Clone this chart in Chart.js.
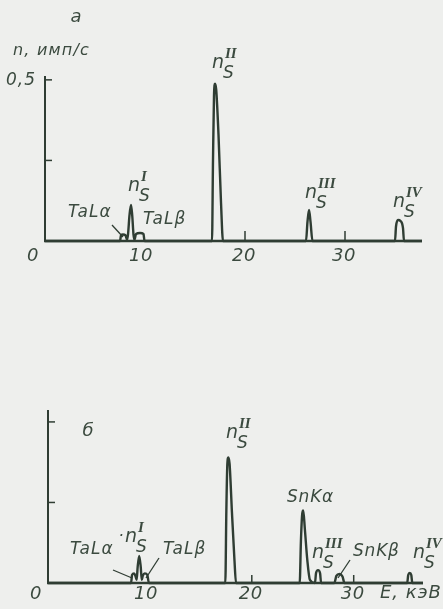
<!DOCTYPE html>
<html>
<head>
<meta charset="utf-8">
<script src="https://cdn.jsdelivr.net/npm/chart.js@4/dist/chart.umd.min.js"></script>
<style>
  html, body { margin: 0; padding: 0; background: #eeefed; }
  #page { position: relative; width: 443px; height: 609px; overflow: hidden; background: #eeefed; }
  canvas { position: absolute; left: 0; }
  #specA { top: 0; }
  #specB { top: 380px; }
</style>
</head>
<body>
<div id="page">
  <canvas id="specA" width="443" height="300"></canvas>
  <canvas id="specB" width="443" height="229"></canvas>
</div>
<script>
// ---- Spectrum (а): energy E, keV, and count rate n, imp/s ----
const energyA = [0, 7.5, 7.6, 7.8, 8.05, 8.2, 8.3, 8.45, 8.6, 8.72, 8.85, 8.95, 9.1, 9.5, 9.85, 9.95,
                 16.7, 16.8, 16.9, 17.0, 17.12, 17.35, 17.6, 17.8,
                 26.1, 26.25, 26.4, 26.55, 26.75,
                 35.0, 35.1, 35.3, 35.55, 35.8, 35.9, 37.7];
const countsA = [0, 0, 0.017, 0.02, 0.018, 0.004, 0.02, 0.08, 0.112, 0.08, 0.02, 0.004, 0.022, 0.025, 0.022, 0,
                 0, 0.25, 0.45, 0.488, 0.47, 0.33, 0.12, 0,
                 0, 0.06, 0.096, 0.06, 0,
                 0, 0.045, 0.065, 0.062, 0.04, 0, 0];

// ---- Spectrum (б) ----
const energyB = [0, 8.15, 8.25, 8.45, 8.6, 8.7, 8.8, 8.95, 9.1, 9.2, 9.3, 9.5, 9.75, 9.9,
                 17.4, 17.5, 17.6, 17.7, 17.82, 18.05, 18.3, 18.45,
                 24.7, 24.82, 24.95, 25.05, 25.2, 25.45, 25.7, 26.2,
                 26.3, 26.5, 26.7, 26.8,
                 28.1, 28.3, 28.6, 28.9, 29.1,
                 35.25, 35.35, 35.5, 35.65, 35.75, 36.8];
const countsB = [0, 0, 0.025, 0.03, 0.02, 0.01, 0.05, 0.084, 0.05, 0.01, 0.022, 0.03, 0.025, 0,
                 0, 0.22, 0.37, 0.39, 0.37, 0.22, 0.07, 0,
                 0, 0.13, 0.215, 0.225, 0.17, 0.07, 0.01, 0,
                 0.03, 0.04, 0.03, 0,
                 0, 0.022, 0.028, 0.02, 0,
                 0, 0.025, 0.031, 0.025, 0, 0];

// ---- axis ticks and labels ----
const xTickValues = [0, 10, 20, 30];
const xTickLabels = ['0', '10', '20', '30'];
const xTickMarks = [20, 30];
const yTickMarks = [0.25, 0.5];
const yTickLabelValue = 0.5;
const yTickLabel = '0,5';
const xAxisTitle = 'E, кэВ';
const yAxisTitle = 'n, имп/с';

const INK = '#2f3d33';
const TEXT = '#3b4a3f';
const FONT = '"DejaVu Sans", sans-serif';
const NUM_FONT = '"Liberation Serif", "DejaVu Serif", serif';

function pts(es, ns) { return es.map((e, i) => ({ x: e, y: ns[i] })); }

function text(ctx, s, x, y, size, align, spacing) {
  ctx.save();
  ctx.font = 'italic ' + size + 'px ' + FONT;
  ctx.letterSpacing = (spacing === undefined ? 1 : spacing) + 'px';
  ctx.fillStyle = TEXT;
  ctx.textAlign = align || 'left';
  ctx.textBaseline = 'middle';
  ctx.fillText(s, x, y);
  ctx.restore();
}

// peak label n with subscript S and a roman superscript
function peakLabel(ctx, x, y, numeral) {
  text(ctx, 'n', x, y, 19, 'left', 0);
  text(ctx, 'S', x + 11, y + 11, 17, 'left', 0);
  ctx.save();
  ctx.font = 'italic bold 15px ' + NUM_FONT;
  ctx.letterSpacing = '0px';
  ctx.fillStyle = TEXT;
  ctx.textBaseline = 'middle';
  ctx.fillText(numeral, x + 13, y - 9);
  ctx.restore();
}

function leader(ctx, x1, y1, x2, y2) {
  ctx.save();
  ctx.strokeStyle = INK;
  ctx.lineWidth = 1.3;
  ctx.beginPath();
  ctx.moveTo(x1, y1);
  ctx.lineTo(x2, y2);
  ctx.stroke();
  ctx.restore();
}

// axes frame: vertical axis, baseline, inward tick marks
function frame(chart, opts) {
  const ctx = chart.ctx;
  const xs = chart.scales.x, ys = chart.scales.y;
  const x0 = xs.getPixelForValue(0), y0 = ys.getPixelForValue(0);
  ctx.save();
  ctx.strokeStyle = INK;
  ctx.lineCap = 'butt';
  ctx.lineWidth = 2;
  ctx.beginPath();
  ctx.moveTo(x0, ys.getPixelForValue(ys.max));
  ctx.lineTo(x0, y0 + 1);
  ctx.stroke();
  ctx.lineWidth = 2.6;
  ctx.beginPath();
  ctx.moveTo(x0 - 1, y0);
  ctx.lineTo(xs.getPixelForValue(xs.max), y0);
  ctx.stroke();
  ctx.lineWidth = 1.5;
  yTickMarks.forEach(v => {
    const py = ys.getPixelForValue(v);
    ctx.beginPath(); ctx.moveTo(x0, py); ctx.lineTo(x0 + 7, py); ctx.stroke();
  });
  xTickMarks.forEach(v => {
    const px = xs.getPixelForValue(v);
    ctx.beginPath(); ctx.moveTo(px, y0); ctx.lineTo(px, y0 - opts.tickLen); ctx.stroke();
  });
  ctx.restore();
  // energy labels under the baseline
  xTickValues.forEach((v, i) => {
    const dx = v === 0 ? -12 : (v === 10 ? -4 : -1);
    text(chart.ctx, xTickLabels[i], xs.getPixelForValue(v) + dx, y0 + opts.labelGap, 18, 'center', 0.5);
  });
}

function makeChart(id, es, ns, xMax, yMax, padding, decorate) {
  return new Chart(document.getElementById(id), {
    type: 'line',
    data: {
      datasets: [{
        data: pts(es, ns),
        borderColor: INK,
        borderWidth: 2.4,
        pointRadius: 0,
        fill: false,
        cubicInterpolationMode: 'monotone',
        clip: false
      }]
    },
    options: {
      responsive: false,
      animation: false,
      events: [],
      layout: { padding: padding },
      plugins: { legend: { display: false }, tooltip: { enabled: false } },
      scales: {
        x: { type: 'linear', min: 0, max: xMax, display: false },
        y: { type: 'linear', min: 0, max: yMax, display: false }
      }
    },
    plugins: [{ id: 'decor', afterDatasetsDraw: decorate }]
  });
}

// panel а
makeChart('specA', energyA, countsA, 37.7, 0.512,
  { left: 45, right: 21, top: 76, bottom: 59 },
  chart => {
    const ctx = chart.ctx;
    frame(chart, { tickLen: 10, labelGap: 15 });
    const ys = chart.scales.y;
    text(ctx, yTickLabel, 36, ys.getPixelForValue(yTickLabelValue) + 1, 17, 'right', 1);
    text(ctx, 'а', 76, 17, 18, 'center', 0);
    text(ctx, yAxisTitle, 13, 51, 16, 'left', 1.2);
    text(ctx, 'TaLα', 68, 213, 17, 'left', 1);
    leader(ctx, 112, 225, 123, 237);
    text(ctx, 'TaLβ', 143, 220, 17, 'left', 1);
    peakLabel(ctx, 128, 186, 'I');
    peakLabel(ctx, 212, 63, 'II');
    peakLabel(ctx, 305, 193, 'III');
    peakLabel(ctx, 393, 202, 'IV');
  });

// panel б
makeChart('specB', energyB, countsB, 36.8, 0.537,
  { left: 48, right: 20, top: 30, bottom: 26 },
  chart => {
    const ctx = chart.ctx;
    frame(chart, { tickLen: 8, labelGap: 11 });
    text(ctx, xAxisTitle, 380, 213, 18, 'left', 1);
    text(ctx, 'б', 88, 51, 18, 'center', 0);
    text(ctx, 'TaLα', 70, 170, 17, 'left', 1);
    leader(ctx, 113, 190, 132, 198);
    text(ctx, '·', 121, 157, 16, 'center', 0);
    peakLabel(ctx, 125, 157, 'I');
    text(ctx, 'TaLβ', 163, 170, 17, 'left', 1);
    leader(ctx, 159, 178, 146, 198);
    peakLabel(ctx, 226, 53, 'II');
    text(ctx, 'SnKα', 287, 118, 17, 'left', 0.8);
    peakLabel(ctx, 312, 173, 'III');
    text(ctx, 'SnKβ', 353, 172, 17, 'left', 0.8);
    leader(ctx, 350, 180, 338, 198);
    peakLabel(ctx, 413, 173, 'IV');
  });
</script>
</body>
</html>
